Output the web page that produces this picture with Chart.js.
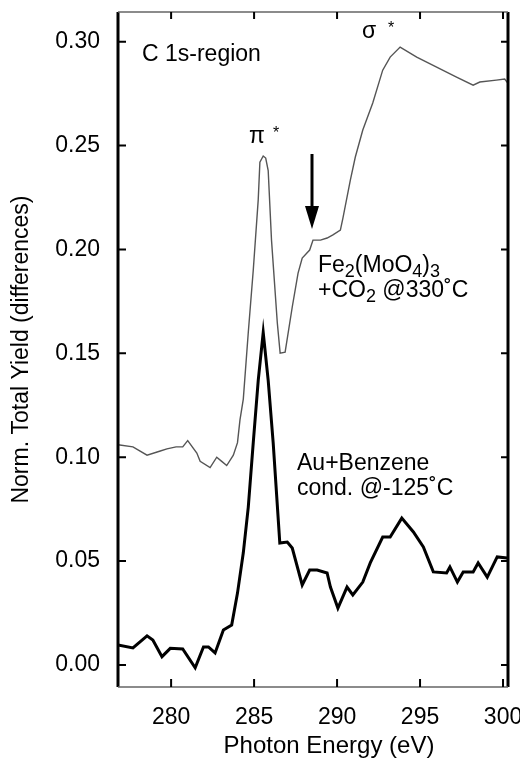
<!DOCTYPE html>
<html>
<head>
<meta charset="utf-8">
<script src="https://cdn.jsdelivr.net/npm/chart.js@4/dist/chart.umd.min.js"></script>
<style>
  html, body { margin: 0; padding: 0; background: #fff; }
  #wrap { width: 520px; height: 763px; }
</style>
</head>
<body>
<div id="wrap"><canvas id="chart"></canvas></div>
<script>
// Fe2(MoO4)3 + CO2 @ 330°C (thin grey trace)
const feEnergy = [276.8, 277.7, 278.55, 279.35, 279.75, 280.3, 280.7, 281.0, 281.55, 281.75, 282.35, 282.75, 283.05, 283.35, 283.75, 284.0, 284.15, 284.35, 284.65, 284.95, 285.25, 285.35, 285.55, 285.7, 285.85, 286.05, 286.4, 286.57, 286.87, 287.3, 287.65, 287.9, 288.35, 288.55, 289.0, 289.4, 289.75, 290.2, 290.35, 290.8, 291.1, 291.55, 292.15, 292.75, 293.2, 293.8, 294.8, 296.0, 297.2, 298.2, 298.6, 299.6, 300.1, 300.3];
const feYield = [0.106, 0.105, 0.101, 0.103, 0.104, 0.105, 0.105, 0.108, 0.102, 0.098, 0.095, 0.100, 0.098, 0.096, 0.101, 0.107, 0.118, 0.128, 0.160, 0.190, 0.224, 0.242, 0.245, 0.244, 0.238, 0.2045, 0.1646, 0.1501, 0.1506, 0.1723, 0.1886, 0.1959, 0.1997, 0.2045, 0.2045, 0.2055, 0.207, 0.2093, 0.215, 0.2334, 0.2445, 0.2575, 0.2705, 0.2863, 0.2926, 0.2974, 0.2926, 0.2878, 0.283, 0.2791, 0.2806, 0.2815, 0.282, 0.280];

// Au + Benzene cond. @ -125°C (thick black trace)
const auEnergy = [276.8, 277.7, 278.55, 278.9, 279.45, 279.95, 280.7, 281.45, 281.95, 282.25, 282.65, 283.15, 283.65, 284.0, 284.35, 284.65, 284.95, 285.25, 285.55, 285.85, 286.15, 286.55, 287.0, 287.3, 287.9, 288.35, 288.8, 289.4, 289.6, 290.05, 290.6, 290.95, 291.55, 292.0, 292.75, 293.2, 293.9, 294.6, 295.2, 295.8, 296.6, 296.8, 297.25, 297.6, 298.2, 298.5, 299.05, 299.65, 300.25];
const auYield = [0.0096, 0.0082, 0.014, 0.012, 0.004, 0.008, 0.0077, -0.0014, 0.0087, 0.0087, 0.0058, 0.0168, 0.0192, 0.0346, 0.054, 0.076, 0.107, 0.137, 0.160, 0.137, 0.107, 0.0587, 0.0592, 0.0563, 0.0385, 0.0457, 0.0457, 0.0443, 0.0375, 0.0274, 0.0375, 0.0337, 0.0399, 0.0491, 0.0616, 0.0616, 0.0707, 0.064, 0.0568, 0.0448, 0.0443, 0.0472, 0.0399, 0.0448, 0.0448, 0.0491, 0.0423, 0.052, 0.0515];

const xTicks = [280, 285, 290, 295, 300];
const yTicks = [0.00, 0.05, 0.10, 0.15, 0.20, 0.25, 0.30];

const FONT = "'Liberation Sans', Arial, Helvetica, sans-serif";

const toPoints = (xs, ys) => xs.map((x, i) => ({ x: x, y: ys[i] }));

// frame, inward tick marks, annotations and the arrow
const decorations = {
  id: "decorations",
  afterDraw(chart) {
    const { ctx, chartArea: a, scales } = chart;
    const xs = scales.x, ys = scales.y;
    ctx.save();

    // frame
    ctx.strokeStyle = "#000";
    ctx.lineWidth = 3;
    ctx.beginPath();
    ctx.moveTo(a.left, a.top); ctx.lineTo(a.left, a.bottom);
    ctx.moveTo(a.right, a.top); ctx.lineTo(a.right, a.bottom);
    ctx.stroke();
    ctx.strokeStyle = "#666";
    ctx.lineWidth = 1.5;
    ctx.beginPath();
    ctx.moveTo(a.left, a.top); ctx.lineTo(a.right, a.top);
    ctx.moveTo(a.left, a.bottom); ctx.lineTo(a.right, a.bottom);
    ctx.stroke();

    // inward ticks on all four sides
    ctx.strokeStyle = "#000";
    ctx.lineWidth = 2;
    ctx.beginPath();
    xTicks.forEach(v => {
      const px = xs.getPixelForValue(v);
      ctx.moveTo(px, a.bottom); ctx.lineTo(px, a.bottom - 8);
      ctx.moveTo(px, a.top); ctx.lineTo(px, a.top + 7);
    });
    yTicks.forEach(v => {
      const py = ys.getPixelForValue(v);
      ctx.moveTo(a.left, py); ctx.lineTo(a.left + 8, py);
      ctx.moveTo(a.right, py); ctx.lineTo(a.right - 7, py);
    });
    ctx.stroke();

    // x axis title
    ctx.fillStyle = "#000";
    ctx.font = "24px " + FONT;
    ctx.textAlign = "center";
    ctx.textBaseline = "alphabetic";
    ctx.fillText("Photon Energy (eV)", 329, 753);

    // annotations
    ctx.textAlign = "left";
    ctx.font = "23px " + FONT;
    ctx.fillText("C 1s-region", 142, 61);

    ctx.fillText("\u03C0", 249, 143);
    ctx.fillText("\u03C3", 362, 38);
    ctx.font = "16px " + FONT;
    ctx.fillText("*", 273, 138);
    ctx.fillText("*", 388, 33);

    const sub = (parts, x, y) => {
      parts.forEach(([t, isSub]) => {
        ctx.font = (isSub ? "18px " : "23px ") + FONT;
        ctx.fillText(t, x, y + (isSub ? 5 : 0));
        x += ctx.measureText(t).width;
      });
    };
    sub([["Fe", 0], ["2", 1], ["(MoO", 0], ["4", 1], [")", 0], ["3", 1]], 318, 272);
    sub([["+CO", 0], ["2", 1], [" @330\u02DAC", 0]], 318, 297);

    ctx.font = "23px " + FONT;
    ctx.fillText("Au+Benzene", 297, 470);
    ctx.fillText("cond. @-125\u02DAC", 297, 495);

    // arrow
    ctx.strokeStyle = "#000";
    ctx.lineWidth = 3;
    ctx.beginPath();
    ctx.moveTo(312, 154); ctx.lineTo(312, 210);
    ctx.stroke();
    ctx.beginPath();
    ctx.moveTo(305, 206); ctx.lineTo(319, 206); ctx.lineTo(312, 229);
    ctx.closePath();
    ctx.fill();

    ctx.restore();
  }
};

new Chart(document.getElementById("chart"), {
  type: "line",
  data: {
    datasets: [
      {
        label: "Fe2(MoO4)3 +CO2 @330°C",
        data: toPoints(feEnergy, feYield),
        borderColor: "#555",
        borderWidth: 1.4,
        pointRadius: 0,
        tension: 0,
      },
      {
        label: "Au+Benzene cond. @-125°C",
        data: toPoints(auEnergy, auYield),
        borderColor: "#000",
        borderWidth: 3,
        pointRadius: 0,
        tension: 0,
      },
    ],
  },
  options: {
    responsive: true,
    maintainAspectRatio: false,
    animation: false,
    layout: { padding: { top: 12, right: 12, left: 0, bottom: 0 } },
    plugins: {
      legend: { display: false },
      tooltip: { enabled: false },
    },
    scales: {
      x: {
        type: "linear",
        min: 276.8,
        max: 300.3,
        afterBuildTicks: (s) => { s.ticks = xTicks.map(v => ({ value: v })); },
        afterFit: (s) => { s.height = 76; s.paddingLeft = 0; s.paddingRight = 0; },
        grid: { display: false, drawTicks: false },
        border: { display: false },
        ticks: {
          color: "#000",
          padding: 17,
          font: { size: 23, family: FONT },
          callback: (v) => String(v),
        },
      },
      y: {
        type: "linear",
        min: -0.0106,
        max: 0.3143,
        afterBuildTicks: (s) => { s.ticks = yTicks.map(v => ({ value: v })); },
        afterFit: (s) => { s.width = 118; s.paddingTop = 0; s.paddingBottom = 0; },
        grid: { display: false, drawTicks: false },
        border: { display: false },
        ticks: {
          color: "#000",
          padding: 18,
          font: { size: 23, family: FONT },
          callback: (v) => v.toFixed(2),
        },
        title: {
          display: true,
          text: "Norm. Total Yield (differences)",
          color: "#000",
          font: { size: 23, family: FONT },
          padding: { top: 8, bottom: 0 },
        },
      },
    },
  },
  plugins: [decorations],
});
</script>
</body>
</html>
